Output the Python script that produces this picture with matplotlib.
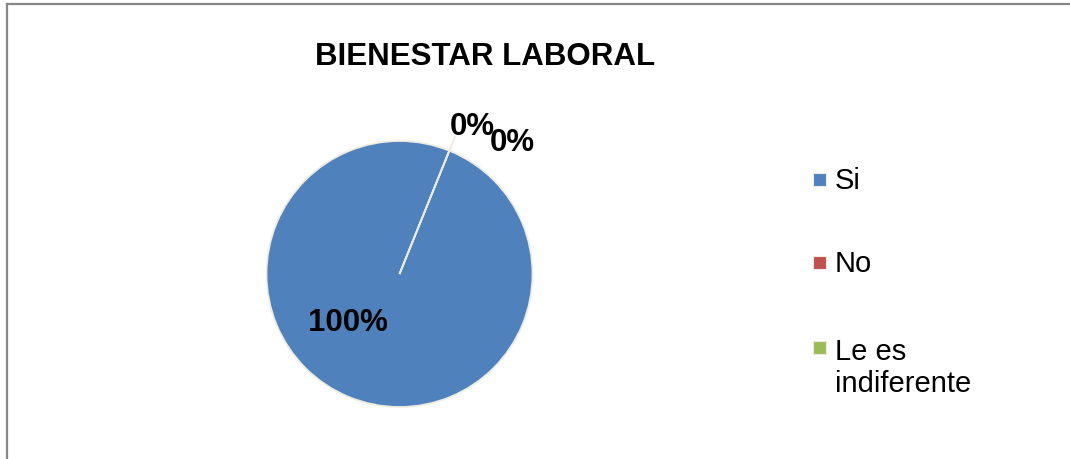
import matplotlib
matplotlib.use("Agg")
import matplotlib.pyplot as plt
from matplotlib.lines import Line2D
from matplotlib.patches import Rectangle
import numpy as np

plt.rcParams["font.family"] = ["Liberation Sans", "DejaVu Sans"]

# survey answers (share of respondents)
categories = ["Si", "No", "Le es\nindiferente"]
values = [100, 0, 0]
colors = ["#4F81BD", "#C0504D", "#9BBB59"]
title = "BIENESTAR LABORAL"

W, H = 1070, 460
fig = plt.figure(figsize=(W / 100, H / 100), dpi=100)

# pie centre / radius in pixels
cx, cy, r = 399.5, 275, 133
ax = fig.add_axes([(cx - r) / W, (H - cy - r) / H, 2 * r / W, 2 * r / H])
wedges, _ = ax.pie(values, colors=colors, startangle=68, counterclock=False,
                   radius=1, wedgeprops=dict(edgecolor="#EEECE1", linewidth=1.3))
ax.set_xlim(-1, 1)
ax.set_ylim(-1, 1)
ax.set_aspect("equal")
ax.axis("off")

# leader line running out to the zero-size slices
a = np.deg2rad(68)
ax.plot([0, 1.12 * np.cos(a)], [0, 1.12 * np.sin(a)], color="#EEECE1",
        lw=1.3, clip_on=False, solid_capstyle="butt", zorder=3)

total = sum(values)
pct = [f"{round(v / total * 100)}%" for v in values]
label_pos = [(-0.387, -0.421), (0.545, 1.053), (0.846, 0.932)]
for txt, (x, y) in zip(pct, label_pos):
    ax.text(x, y, txt, ha="center", va="baseline", fontsize=22.5,
            fontweight="bold", clip_on=False, zorder=4)

fig.text(485 / W, 1 - 65 / H, title, ha="center", va="baseline",
         fontsize=22.5, fontweight="bold")

# legend: square swatch + label, one row per category
leg_fs = 21
line_px = leg_fs * 1.2 * 100 / 72
rows_y = [180, 263, 348]
for c, lab, y in zip(colors, categories, rows_y):
    fig.add_artist(Rectangle((813 / W, 1 - (y + 6.5) / H), 13 / W, 13 / H,
                             facecolor=c, edgecolor="#EEECE1", lw=0.8,
                             transform=fig.transFigure))
    # baseline alignment anchors the last line of a multi-line label
    base = y + 9 + line_px * lab.count("\n")
    fig.text(835 / W, 1 - base / H, lab, ha="left", va="baseline",
             fontsize=leg_fs, linespacing=1.2)

# chart area border (left and top edges)
fig.add_artist(Line2D([7 / W, 7 / W], [0, 1 - 5 / H], color="#868686", lw=1.6))
fig.add_artist(Line2D([7 / W, 1], [1 - 5 / H, 1 - 5 / H], color="#868686", lw=1.6))

fig.savefig("out.png", dpi=100, facecolor="white")
